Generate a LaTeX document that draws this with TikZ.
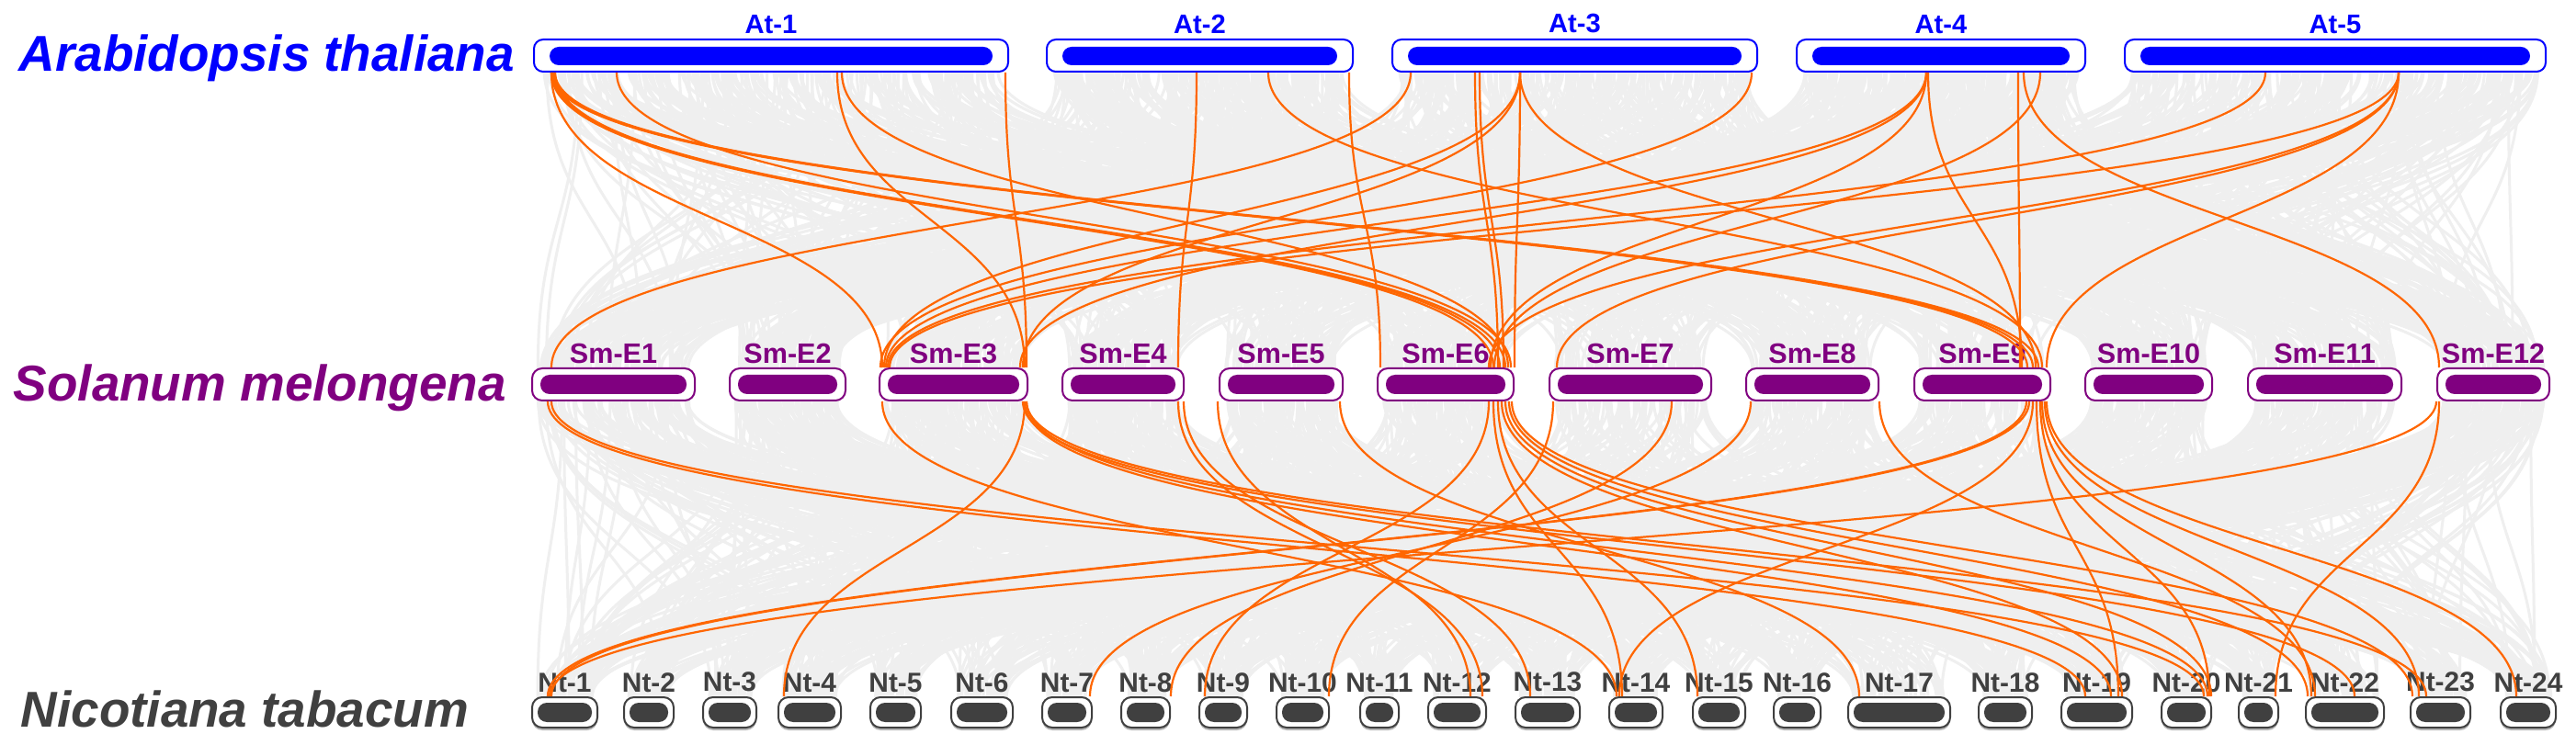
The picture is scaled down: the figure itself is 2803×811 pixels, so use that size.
\documentclass[tikz,border=0pt]{standalone}
\usepackage{fontspec}
\setmainfont{Liberation Sans}
\usepackage{tikz}
\usetikzlibrary{positioning, calc, shadows}

\definecolor{atblue}{RGB}{0,0,255}
\definecolor{smpurple}{RGB}{128,0,128}
\definecolor{ntgray}{RGB}{64,64,64}
\definecolor{linkorange}{RGB}{255,102,0}
\definecolor{hazegray}{RGB}{239,239,239}

% start and length of the chromosomes, for the grey background links
\def\atx{{581,1139,1515,1955,2312}}
\def\atw{{516,333,397,314,458}}
\def\smx{{579,794,957,1156,1327,1499,1686,1900,2083,2269,2446,2652}}
\def\smw{{177,126,161,132,134,148,176,144,148,138,167,122}}
\def\ntx{{579,679,765,847,947,1035,1134,1220,1305,1389,1480,1554,1649,1751,1842,1930,2011,2153,2243,2352,2436,2509,2623,2721}}
\def\ntw{{71,54,58,68,55,67,54,53,52,57,42,63,70,58,57,51,111,58,77,54,43,85,65,60}}

% orange link from chromosome #1 (at x=#2) down to chromosome #3 (at x=#4)
\newcommand{\synlink}[4]{%
  \path (#2,0 |- #1.south) coordinate (ls) (#4,0 |- #3.north) coordinate (lt);
  \path ($(ls)!0.5!(lt)$) coordinate (lm);
  \draw[orange link] (ls) .. controls (ls |- lm) and (lt |- lm) .. (lt);
}

\begin{document}
\begin{tikzpicture}[x=0.1mm, y=-0.1mm, font=\bfseries]
        % Setup the styles for the chromosomes and links
        \tikzset{atchr/.style={draw=atblue, fill=white, line width=0.2mm,
                               rounded corners=1mm, minimum height=3.5mm, inner sep=0pt,
                               path picture={\fill[atblue, rounded corners=1mm]
                                 ([xshift=1.7mm, yshift=0.7mm]path picture bounding box.south west) rectangle
                                 ([xshift=-1.7mm, yshift=-0.8mm]path picture bounding box.north east);}},
                 smchr/.style={draw=smpurple, fill=white, line width=0.2mm,
                               rounded corners=1.1mm, minimum height=3.5mm, inner sep=0pt,
                               path picture={\fill[smpurple, rounded corners=1mm]
                                 ([xshift=0.9mm, yshift=0.7mm]path picture bounding box.south west) rectangle
                                 ([xshift=-0.9mm, yshift=-0.7mm]path picture bounding box.north east);}},
                 ntchr/.style={draw=ntgray, fill=white, line width=0.2mm,
                               rounded corners=1.1mm, minimum height=3.3mm, inner sep=0pt,
                               drop shadow={shadow xshift=0mm, shadow yshift=-0.3mm, fill=gray!55, opacity=1},
                               path picture={\fill[ntgray, rounded corners=1mm]
                                 ([xshift=0.6mm, yshift=0.6mm]path picture bounding box.south west) rectangle
                                 ([xshift=-0.6mm, yshift=-0.6mm]path picture bounding box.north east);}},
                 atlab/.style={text=atblue, inner sep=0pt, font=\fontsize{8.3}{9}\selectfont\bfseries},
                 smlab/.style={text=smpurple, inner sep=0pt, font=\fontsize{8.7}{9}\selectfont\bfseries},
                 ntlab/.style={text=ntgray, inner sep=0pt, font=\fontsize{8.5}{9}\selectfont\bfseries},
                 species/.style={inner sep=0pt, anchor=base west,
                                 font=\fontsize{15.6}{18}\selectfont\bfseries\itshape},
                 haze/.style={draw=hazegray, line width=0.3mm},
                 orange link/.style={draw=linkorange, line width=0.22mm}}

        \path[fill=white, use as bounding box] (0,0) rectangle (2803,811);

        % Draw the grey background links
        \pgfmathsetseed{1234}
        \foreach \i in {1,...,1400}{
          \pgfmathtruncatemacro{\ka}{random(0,4)}
          \pgfmathtruncatemacro{\kb}{random(0,11)}
          \pgfmathsetmacro{\xa}{\atx[\ka]+8+rnd*(\atw[\ka]-16)}
          \pgfmathsetmacro{\xb}{\smx[\kb]+6+rnd*(\smw[\kb]-12)}
          \draw[haze] (\xa,78) .. controls (\xa,240) and (\xb,240) .. (\xb,401);
        }
        \foreach \i in {1,...,1400}{
          \pgfmathtruncatemacro{\ka}{random(0,11)}
          \pgfmathtruncatemacro{\kb}{random(0,23)}
          \pgfmathsetmacro{\xa}{\smx[\ka]+6+rnd*(\smw[\ka]-12)}
          \pgfmathsetmacro{\xb}{\ntx[\kb]+5+rnd*(\ntw[\kb]-10)}
          \draw[haze] (\xa,436) .. controls (\xa,598) and (\xb,598) .. (\xb,759);
        }

        % Draw the species names
        \node[species, text=atblue] at (20, 78) (Ath) {Arabidopsis thaliana};
        \node[species, text=smpurple] at (14, 437) (Sme) {Solanum melongena};
        \node[species, text=ntgray] at (22, 791) (Nta) {Nicotiana tabacum};

        % Draw the Arabidopsis chromosomes
        \node[atchr, minimum width=51.6mm] at (839, 60.5) (At1) {};
        \node[atchr, minimum width=33.3mm] at (1305.5, 60.5) (At2) {};
        \node[atchr, minimum width=39.7mm] at (1713.5, 60.5) (At3) {};
        \node[atchr, minimum width=31.4mm] at (2112, 60.5) (At4) {};
        \node[atchr, minimum width=45.8mm] at (2541, 60.5) (At5) {};
        \node[atlab, above=0.5mm of At1] (At1l) {At-1};
        \node[atlab, above=0.5mm of At2] (At2l) {At-2};
        \node[atlab, above=0.5mm of At3] (At3l) {At-3};
        \node[atlab, above=0.5mm of At4] (At4l) {At-4};
        \node[atlab, above=0.5mm of At5] (At5l) {At-5};

        % Draw the eggplant chromosomes
        \node[smchr, minimum width=17.7mm] at (667.5, 418.5) (Sm1) {};
        \node[smchr, minimum width=12.6mm] at (857, 418.5) (Sm2) {};
        \node[smchr, minimum width=16.1mm] at (1037.5, 418.5) (Sm3) {};
        \node[smchr, minimum width=13.2mm] at (1222, 418.5) (Sm4) {};
        \node[smchr, minimum width=13.4mm] at (1394, 418.5) (Sm5) {};
        \node[smchr, minimum width=14.8mm] at (1573, 418.5) (Sm6) {};
        \node[smchr, minimum width=17.6mm] at (1774, 418.5) (Sm7) {};
        \node[smchr, minimum width=14.4mm] at (1972, 418.5) (Sm8) {};
        \node[smchr, minimum width=14.8mm] at (2157, 418.5) (Sm9) {};
        \node[smchr, minimum width=13.8mm] at (2338, 418.5) (Sm10) {};
        \node[smchr, minimum width=16.7mm] at (2529.5, 418.5) (Sm11) {};
        \node[smchr, minimum width=12.2mm] at (2713, 418.5) (Sm12) {};
        \node[smlab, above=0.3mm of Sm1] (Sm1l) {Sm-E1};
        \node[smlab, above=0.3mm of Sm2] (Sm2l) {Sm-E2};
        \node[smlab, above=0.3mm of Sm3] (Sm3l) {Sm-E3};
        \node[smlab, above=0.3mm of Sm4] (Sm4l) {Sm-E4};
        \node[smlab, above=0.3mm of Sm5] (Sm5l) {Sm-E5};
        \node[smlab, above=0.3mm of Sm6] (Sm6l) {Sm-E6};
        \node[smlab, above=0.3mm of Sm7] (Sm7l) {Sm-E7};
        \node[smlab, above=0.3mm of Sm8] (Sm8l) {Sm-E8};
        \node[smlab, above=0.3mm of Sm9] (Sm9l) {Sm-E9};
        \node[smlab, above=0.3mm of Sm10] (Sm10l) {Sm-E10};
        \node[smlab, above=0.3mm of Sm11] (Sm11l) {Sm-E11};
        \node[smlab, above=0.3mm of Sm12] (Sm12l) {Sm-E12};

        % Draw the tobacco chromosomes
        \node[ntchr, minimum width=7.1mm] at (614.5, 775.5) (Nt1) {};
        \node[ntchr, minimum width=5.4mm] at (706, 775.5) (Nt2) {};
        \node[ntchr, minimum width=5.8mm] at (794, 775.5) (Nt3) {};
        \node[ntchr, minimum width=6.8mm] at (881, 775.5) (Nt4) {};
        \node[ntchr, minimum width=5.5mm] at (974.5, 775.5) (Nt5) {};
        \node[ntchr, minimum width=6.7mm] at (1068.5, 775.5) (Nt6) {};
        \node[ntchr, minimum width=5.4mm] at (1161, 775.5) (Nt7) {};
        \node[ntchr, minimum width=5.3mm] at (1246.5, 775.5) (Nt8) {};
        \node[ntchr, minimum width=5.2mm] at (1331, 775.5) (Nt9) {};
        \node[ntchr, minimum width=5.7mm] at (1417.5, 775.5) (Nt10) {};
        \node[ntchr, minimum width=4.2mm] at (1501, 775.5) (Nt11) {};
        \node[ntchr, minimum width=6.3mm] at (1585.5, 775.5) (Nt12) {};
        \node[ntchr, minimum width=7.0mm] at (1684, 775.5) (Nt13) {};
        \node[ntchr, minimum width=5.8mm] at (1780, 775.5) (Nt14) {};
        \node[ntchr, minimum width=5.7mm] at (1870.5, 775.5) (Nt15) {};
        \node[ntchr, minimum width=5.1mm] at (1955.5, 775.5) (Nt16) {};
        \node[ntchr, minimum width=11.1mm] at (2066.5, 775.5) (Nt17) {};
        \node[ntchr, minimum width=5.8mm] at (2182, 775.5) (Nt18) {};
        \node[ntchr, minimum width=7.7mm] at (2281.5, 775.5) (Nt19) {};
        \node[ntchr, minimum width=5.4mm] at (2379, 775.5) (Nt20) {};
        \node[ntchr, minimum width=4.3mm] at (2457.5, 775.5) (Nt21) {};
        \node[ntchr, minimum width=8.5mm] at (2551.5, 775.5) (Nt22) {};
        \node[ntchr, minimum width=6.5mm] at (2655.5, 775.5) (Nt23) {};
        \node[ntchr, minimum width=6.0mm] at (2751, 775.5) (Nt24) {};
        \node[ntlab, above=0.4mm of Nt1] (Nt1l) {Nt-1};
        \node[ntlab, above=0.4mm of Nt2] (Nt2l) {Nt-2};
        \node[ntlab, above=0.4mm of Nt3] (Nt3l) {Nt-3};
        \node[ntlab, above=0.4mm of Nt4] (Nt4l) {Nt-4};
        \node[ntlab, above=0.4mm of Nt5] (Nt5l) {Nt-5};
        \node[ntlab, above=0.4mm of Nt6] (Nt6l) {Nt-6};
        \node[ntlab, above=0.4mm of Nt7] (Nt7l) {Nt-7};
        \node[ntlab, above=0.4mm of Nt8] (Nt8l) {Nt-8};
        \node[ntlab, above=0.4mm of Nt9] (Nt9l) {Nt-9};
        \node[ntlab, above=0.4mm of Nt10] (Nt10l) {Nt-10};
        \node[ntlab, above=0.4mm of Nt11] (Nt11l) {Nt-11};
        \node[ntlab, above=0.4mm of Nt12] (Nt12l) {Nt-12};
        \node[ntlab, above=0.4mm of Nt13] (Nt13l) {Nt-13};
        \node[ntlab, above=0.4mm of Nt14] (Nt14l) {Nt-14};
        \node[ntlab, above=0.4mm of Nt15] (Nt15l) {Nt-15};
        \node[ntlab, above=0.4mm of Nt16] (Nt16l) {Nt-16};
        \node[ntlab, above=0.4mm of Nt17] (Nt17l) {Nt-17};
        \node[ntlab, above=0.4mm of Nt18] (Nt18l) {Nt-18};
        \node[ntlab, above=0.4mm of Nt19] (Nt19l) {Nt-19};
        \node[ntlab, above=0.4mm of Nt20] (Nt20l) {Nt-20};
        \node[ntlab, above=0.4mm of Nt21] (Nt21l) {Nt-21};
        \node[ntlab, above=0.4mm of Nt22] (Nt22l) {Nt-22};
        \node[ntlab, above=0.4mm of Nt23] (Nt23l) {Nt-23};
        \node[ntlab, above=0.4mm of Nt24] (Nt24l) {Nt-24};

        % Connect Arabidopsis to eggplant
        \synlink{At1}{600}{Sm3}{960}
        \synlink{At1}{600}{Sm6}{1625}
        \synlink{At1}{602}{Sm6}{1632}
        \synlink{At1}{604}{Sm6}{1638}
        \synlink{At1}{600}{Sm9}{2206}
        \synlink{At1}{602}{Sm9}{2212}
        \synlink{At1}{604}{Sm9}{2218}
        \synlink{At1}{671}{Sm6}{1644}
        \synlink{At1}{911}{Sm3}{1115}
        \synlink{At1}{916}{Sm6}{1641}
        \synlink{At1}{1094}{Sm3}{1117}
        \synlink{At2}{1302}{Sm4}{1282}
        \synlink{At2}{1380}{Sm9}{2222}
        \synlink{At2}{1468}{Sm6}{1502}
        \synlink{At3}{1535}{Sm1}{600}
        \synlink{At3}{1605}{Sm6}{1630}
        \synlink{At3}{1610}{Sm6}{1636}
        \synlink{At3}{1654}{Sm3}{962}
        \synlink{At3}{1654}{Sm3}{1113}
        \synlink{At3}{1654}{Sm6}{1648}
        \synlink{At3}{1654}{Sm9}{2215}
        \synlink{At3}{1906}{Sm3}{958}
        \synlink{At4}{2096}{Sm3}{964}
        \synlink{At4}{2096}{Sm3}{1110}
        \synlink{At4}{2096}{Sm6}{1622}
        \synlink{At4}{2098}{Sm9}{2200}
        \synlink{At4}{2196}{Sm9}{2198}
        \synlink{At4}{2202}{Sm12}{2654}
        \synlink{At4}{2220}{Sm6}{1626}
        \synlink{At5}{2465}{Sm3}{966}
        \synlink{At5}{2610}{Sm3}{968}
        \synlink{At5}{2610}{Sm6}{1620}
        \synlink{At5}{2610}{Sm7}{1694}
        \synlink{At5}{2610}{Sm9}{2227}

        % Connect eggplant to tobacco
        \synlink{Sm1}{596}{Nt19}{2269}
        \synlink{Sm1}{600}{Nt20}{2398}
        \synlink{Sm3}{960}{Nt14}{1759}
        \synlink{Sm3}{1115}{Nt4}{853}
        \synlink{Sm3}{1115}{Nt19}{2297}
        \synlink{Sm3}{1117}{Nt20}{2402}
        \synlink{Sm3}{1113}{Nt22}{2562}
        \synlink{Sm3}{1117}{Nt23}{2640}
        \synlink{Sm4}{1282}{Nt12}{1613}
        \synlink{Sm4}{1288}{Nt13}{1665}
        \synlink{Sm5}{1325}{Nt12}{1600}
        \synlink{Sm5}{1458}{Nt17}{2023}
        \synlink{Sm6}{1620}{Nt9}{1311}
        \synlink{Sm6}{1625}{Nt14}{1765}
        \synlink{Sm6}{1630}{Nt15}{1847}
        \synlink{Sm6}{1634}{Nt19}{2309}
        \synlink{Sm6}{1638}{Nt20}{2406}
        \synlink{Sm6}{1642}{Nt22}{2511}
        \synlink{Sm6}{1645}{Nt23}{2625}
        \synlink{Sm7}{1690}{Nt10}{1446}
        \synlink{Sm7}{1819}{Nt8}{1274}
        \synlink{Sm8}{1905}{Nt7}{1186}
        \synlink{Sm8}{2045}{Nt22}{2519}
        \synlink{Sm9}{2205}{Nt1}{596}
        \synlink{Sm9}{2208}{Nt1}{600}
        \synlink{Sm9}{2212}{Nt14}{1762}
        \synlink{Sm9}{2216}{Nt19}{2305}
        \synlink{Sm9}{2220}{Nt20}{2404}
        \synlink{Sm9}{2222}{Nt22}{2515}
        \synlink{Sm9}{2225}{Nt23}{2632}
        \synlink{Sm9}{2227}{Nt24}{2738}
        \synlink{Sm12}{2651}{Nt1}{598}
        \synlink{Sm12}{2654}{Nt21}{2476}
\end{tikzpicture}
\end{document}
